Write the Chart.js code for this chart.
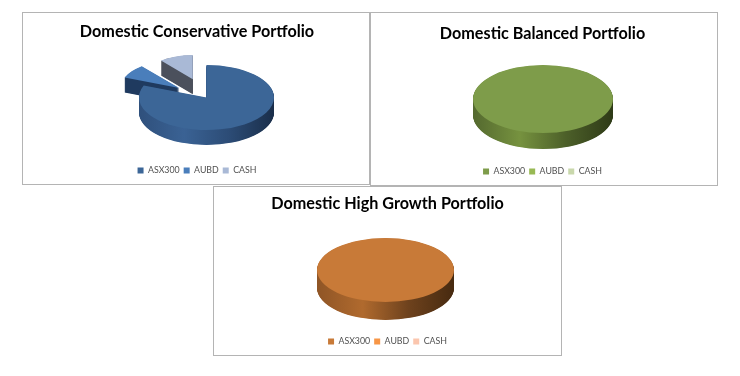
<!DOCTYPE html>
<html>
<head>
<meta charset="utf-8">
<script src="https://cdn.jsdelivr.net/npm/chart.js@4"></script>
<style>
  html, body { margin: 0; background: #fff; }
  .box { position: absolute; border: 1px solid #b4b4b4; background: #fff; }
  .box canvas { display: block; filter: blur(0.55px); }
  #box1 { left: 22px; top: 12px; }
  #box2 { left: 370px; top: 12px; }
  #box3 { left: 213px; top: 186px; }
</style>
</head>
<body>
<div class="box" id="box1"><canvas id="chart1" width="346" height="171"></canvas></div>
<div class="box" id="box2"><canvas id="chart2" width="346" height="172"></canvas></div>
<div class="box" id="box3"><canvas id="chart3" width="347" height="168"></canvas></div>
<script>
const categories = ['ASX300', 'AUBD', 'CASH'];

const conservativeValues = [81, 8, 11];
const balancedValues = [100, 0, 0];
const highGrowthValues = [100, 0, 0];

// how far each slice is pulled out, as a share of the radius
const conservativeExplode = [0, 0.5, 0.6];
// the pulled slices look smaller in the reference
const conservativeSize = [1, 0.87, 0.74];
const noExplode = [0, 0, 0];
const fullSize = [1, 1, 1];

const blues = ['#3c6697', '#4a7ebb', '#a9b9d6'];
const greens = ['#7e9c4a', '#98b954', '#c9d8ac'];
const oranges = ['#c87a38', '#f79646', '#fbc6ae'];

// side wall shading, left to right, one list per slice
const blueWalls = [
  ['#2f507c', '#3a6294', '#2c4c76', '#1a2e4a'],
  ['#1f3a5f', '#1f3a5f', '#1f3a5f', '#1f3a5f'],
  ['#4b505c', '#4b505c', '#4b505c', '#4b505c'],
];
const greenWalls = [['#54692f', '#76923f', '#4c5f29', '#2e3a17']];
const orangeWalls = [['#8f5526', '#b06a2e', '#6e421d', '#472a10']];

// Sloped pie: Chart.js lays out the arcs, this squashes them and adds the thickness
const pie3d = {
  id: 'pie3d',
  beforeDatasetDraw(chart, args, opts) {
    const { ctx } = chart;
    const arcs = chart.getDatasetMeta(0).data;
    // the slices drawn last sit in front, so the big one goes last
    for (let i = arcs.length - 1; i >= 0; i -= 1) {
      const arc = arcs[i];
      if (arc.circumference > 0) {
        const R = arc.outerRadius;
        const mid = (arc.startAngle + arc.endAngle) / 2;
        const pull = opts.explode[i] * R;
        const size = opts.size[i];
        const unit = R / opts.ry / size;

        ctx.save();
        ctx.translate(opts.cx, opts.cy);
        ctx.scale(opts.rx / R, opts.ry / R);
        ctx.translate(Math.cos(mid) * pull, Math.sin(mid) * pull);
        ctx.scale(size, size);
        ctx.translate(-arc.x, -arc.y);

        const stops = opts.walls[i] || opts.walls[0];
        const grad = ctx.createLinearGradient(arc.x - R, 0, arc.x + R, 0);
        stops.forEach((c, n) => grad.addColorStop(n / (stops.length - 1), c));
        ctx.fillStyle = grad;
        for (let d = opts.depth; d > 0; d -= 0.5) {
          ctx.beginPath();
          ctx.moveTo(arc.x, arc.y + d * unit);
          ctx.arc(arc.x, arc.y + d * unit, R, arc.startAngle, arc.endAngle);
          ctx.closePath();
          ctx.fill();
        }
        arc.draw(ctx);
        ctx.restore();
      }
    }
    return false;
  },
};

const makeChart = (id, title, values, colors, shape) => new Chart(document.getElementById(id), {
  type: 'pie',
  data: {
    labels: categories,
    datasets: [{ data: values, backgroundColor: colors, borderWidth: 0, hoverOffset: 0 }],
  },
  options: {
    responsive: false,
    animation: false,
    layout: { padding: shape.padding },
    plugins: {
      title: {
        display: true,
        text: title,
        color: '#000',
        font: { family: 'Lato', size: 16.2, weight: 'bold' },
        padding: { top: shape.titleTop, bottom: 6 },
      },
      legend: {
        position: 'bottom',
        labels: {
          usePointStyle: true,
          pointStyle: 'rect',
          boxWidth: 6,
          boxHeight: 6,
          padding: 4,
          color: '#505050',
          font: { family: 'Lato', size: 8.8 },
        },
      },
      tooltip: { enabled: false },
      pie3d: shape,
    },
  },
  plugins: [pie3d],
});

makeChart('chart1', 'Domestic Conservative Portfolio', conservativeValues, blues, {
  cx: 183.5, cy: 84.5, rx: 67.5, ry: 32.5, depth: 15, explode: conservativeExplode, size: conservativeSize, walls: blueWalls, titleTop: 9, padding: { bottom: -1, left: 2 },
});
makeChart('chart2', 'Domestic Balanced Portfolio', balancedValues, greens, {
  cx: 172, cy: 86, rx: 70, ry: 34, depth: 16, explode: noExplode, size: fullSize, walls: greenWalls, titleTop: 11, padding: { bottom: -1, right: 3 },
});
makeChart('chart3', 'Domestic High Growth Portfolio', highGrowthValues, oranges, {
  cx: 171.5, cy: 83, rx: 68.5, ry: 32, depth: 18, explode: noExplode, size: fullSize, walls: orangeWalls, titleTop: 7, padding: { bottom: -1 },
});
</script>
</body>
</html>
